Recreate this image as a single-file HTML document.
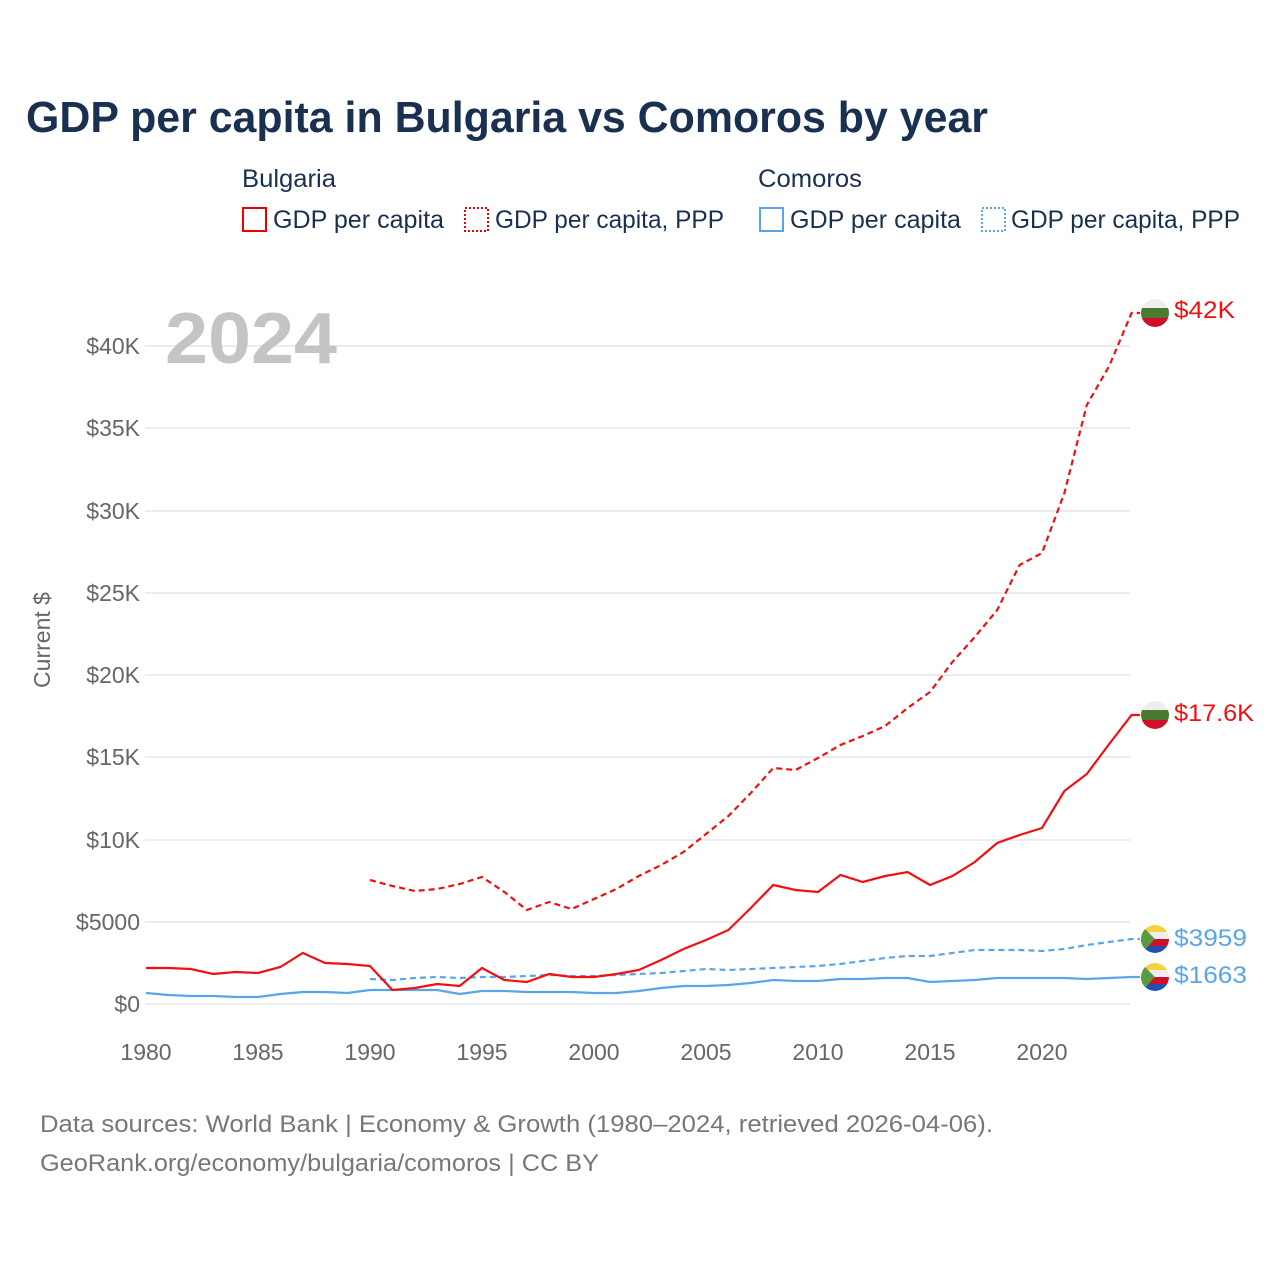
<!DOCTYPE html>
<html><head><meta charset="utf-8"><style>
body{margin:0;background:#fff;}
svg{display:block;font-family:"Liberation Sans",sans-serif;}
</style></head><body>
<svg width="1280" height="1280" viewBox="0 0 1280 1280" xmlns="http://www.w3.org/2000/svg">
<defs>
<clipPath id="c1"><circle cx="1155" cy="313" r="14"/></clipPath>
<clipPath id="c2"><circle cx="1155" cy="715" r="14"/></clipPath>
<clipPath id="c3"><circle cx="1155" cy="939" r="14"/></clipPath>
<clipPath id="c4"><circle cx="1155" cy="977" r="14"/></clipPath>
</defs>
<text x="26" y="132" font-size="44" font-weight="bold" fill="#1a3050" textLength="962" lengthAdjust="spacingAndGlyphs">GDP per capita in Bulgaria vs Comoros by year</text>
<g font-size="25" fill="#1a3050">
<text x="242" y="187" textLength="94" lengthAdjust="spacingAndGlyphs">Bulgaria</text>
<text x="758" y="187" textLength="104" lengthAdjust="spacingAndGlyphs">Comoros</text>
<rect x="243" y="208" width="23" height="23" fill="none" stroke="#e00" stroke-width="2"/>
<text x="273" y="228" textLength="171" lengthAdjust="spacingAndGlyphs">GDP per capita</text>
<rect x="465" y="208" width="23" height="23" fill="none" stroke="#e00" stroke-width="2" stroke-dasharray="2,2"/>
<text x="495" y="228" textLength="229" lengthAdjust="spacingAndGlyphs">GDP per capita, PPP</text>
<rect x="760" y="208" width="23" height="23" fill="none" stroke="#5aa5e8" stroke-width="2"/>
<text x="790" y="228" textLength="171" lengthAdjust="spacingAndGlyphs">GDP per capita</text>
<rect x="982" y="208" width="23" height="23" fill="none" stroke="#5aa5e8" stroke-width="2" stroke-dasharray="2,2"/>
<text x="1011" y="228" textLength="229" lengthAdjust="spacingAndGlyphs">GDP per capita, PPP</text>
</g>
<g stroke="#e6e6e6" stroke-width="1.5">
<line x1="145" x2="1130" y1="346" y2="346"/><line x1="145" x2="1130" y1="428" y2="428"/>
<line x1="145" x2="1130" y1="511" y2="511"/><line x1="145" x2="1130" y1="593" y2="593"/>
<line x1="145" x2="1130" y1="675" y2="675"/><line x1="145" x2="1130" y1="757" y2="757"/>
<line x1="145" x2="1130" y1="840" y2="840"/><line x1="145" x2="1130" y1="922" y2="922"/>
<line x1="145" x2="1130" y1="1004" y2="1004"/>
</g>
<g font-size="23" fill="#666" text-anchor="end">
<text x="140" y="354">$40K</text><text x="140" y="436">$35K</text><text x="140" y="519">$30K</text>
<text x="140" y="601">$25K</text><text x="140" y="683">$20K</text><text x="140" y="765">$15K</text>
<text x="140" y="848">$10K</text><text x="140" y="930">$5000</text><text x="140" y="1012">$0</text>
</g>
<g font-size="23" fill="#666" text-anchor="middle">
<text x="146" y="1060">1980</text><text x="258" y="1060">1985</text><text x="370" y="1060">1990</text>
<text x="482" y="1060">1995</text><text x="594" y="1060">2000</text><text x="706" y="1060">2005</text>
<text x="818" y="1060">2010</text><text x="930" y="1060">2015</text><text x="1042" y="1060">2020</text>
</g>
<text transform="translate(50,640) rotate(-90)" font-size="23" fill="#666" text-anchor="middle">Current $</text>
<text x="165" y="363" font-size="72" font-weight="bold" fill="#c4c4c4" textLength="172" lengthAdjust="spacingAndGlyphs">2024</text>
<polyline fill="none" stroke="#5aa5e8" stroke-width="2.2" points="146,993 168.4,995 190.8,996 213.2,996 235.6,997 258,997 280.4,994 302.8,992 325.2,992 347.6,993 370,990 392.4,990 414.8,990 437.2,990 459.6,994 482,991 504.4,991 526.8,992 549.2,992 571.6,992 594,993 616.4,993 638.8,991 661.2,988 683.6,986 706,986 728.4,985 750.8,983 773.2,980 795.6,981 818,981 840.4,979 862.8,979 885.2,978 907.6,978 930,982 952.4,981 974.8,980 997.2,978 1019.6,978 1042,978 1064.4,978 1086.8,979 1109.2,978 1131.6,977 1140,977"/>
<polyline fill="none" stroke="#5aa5e8" stroke-width="2.2" stroke-dasharray="6,4" points="370,979 392.4,980 414.8,978 437.2,977 459.6,978 482,977 504.4,977 526.8,976 549.2,975 571.6,976 594,976 616.4,975 638.8,974 661.2,973 683.6,971 706,969 728.4,970 750.8,969 773.2,968 795.6,967 818,966 840.4,964 862.8,961 885.2,958 907.6,956 930,956 952.4,953 974.8,950 997.2,950 1019.6,950 1042,951 1064.4,949 1086.8,945 1109.2,942 1131.6,939 1140,939"/>
<polyline fill="none" stroke="#f01010" stroke-width="2.2" points="146,968 168.4,968 190.8,969 213.2,974 235.6,972 258,973 280.4,967 302.8,953 325.2,963 347.6,964 370,966 392.4,990 414.8,988 437.2,984 459.6,986 482,968 504.4,980 526.8,982 549.2,974 571.6,977 594,977 616.4,974 638.8,970 661.2,960 683.6,949 706,940 728.4,930 750.8,908 773.2,885 795.6,890 818,892 840.4,875 862.8,882 885.2,876 907.6,872 930,885 952.4,876 974.8,862 997.2,843 1019.6,835 1042,828 1064.4,791 1086.8,774 1109.2,744 1131.6,715 1140,715"/>
<polyline fill="none" stroke="#f01010" stroke-width="2.2" stroke-dasharray="6,4" points="370,880 392.4,886 414.8,891 437.2,889 459.6,884 482,877 504.4,892 526.8,910 549.2,902 571.6,909 594,899 616.4,889 638.8,876 661.2,865 683.6,852 706,834 728.4,816 750.8,793 773.2,768 795.6,770 818,758 840.4,745 862.8,736 885.2,726 907.6,708 930,692 952.4,662 974.8,637 997.2,610 1019.6,565 1042,553 1064.4,493 1086.8,405 1109.2,366 1131.6,313 1140,313"/>
<g clip-path="url(#c1)"><rect x="1140" y="298" width="30" height="10" fill="#eee"/><rect x="1140" y="308" width="30" height="10" fill="#4a7a30"/><rect x="1140" y="318" width="30" height="12" fill="#d0102a"/></g>
<g clip-path="url(#c2)"><rect x="1140" y="700" width="30" height="10" fill="#eee"/><rect x="1140" y="710" width="30" height="10" fill="#4a7a30"/><rect x="1140" y="720" width="30" height="12" fill="#d0102a"/></g>
<g clip-path="url(#c3)"><rect x="1140" y="924" width="30" height="8" fill="#f8d040"/><rect x="1140" y="932" width="30" height="7" fill="#eee"/><rect x="1140" y="939" width="30" height="7" fill="#d0102a"/><rect x="1140" y="946" width="30" height="9" fill="#2050b0"/><polygon points="1140,924 1155,939 1140,955" fill="#5a9a40"/></g>
<g clip-path="url(#c4)"><rect x="1140" y="962" width="30" height="8" fill="#f8d040"/><rect x="1140" y="970" width="30" height="7" fill="#eee"/><rect x="1140" y="977" width="30" height="7" fill="#d0102a"/><rect x="1140" y="984" width="30" height="9" fill="#2050b0"/><polygon points="1140,962 1155,977 1140,993" fill="#5a9a40"/></g>
<g font-size="24">
<text x="1174" y="318" fill="#f01010" textLength="61" lengthAdjust="spacingAndGlyphs">$42K</text>
<text x="1174" y="721" fill="#f01010" textLength="80" lengthAdjust="spacingAndGlyphs">$17.6K</text>
<text x="1174" y="946" fill="#5aa5e8" textLength="73" lengthAdjust="spacingAndGlyphs">$3959</text>
<text x="1174" y="983" fill="#5aa5e8" textLength="73" lengthAdjust="spacingAndGlyphs">$1663</text>
</g>
<g font-size="24" fill="#777">
<text x="40" y="1132" textLength="953" lengthAdjust="spacingAndGlyphs">Data sources: World Bank | Economy &amp; Growth (1980–2024, retrieved 2026-04-06).</text>
<text x="40" y="1171" textLength="559" lengthAdjust="spacingAndGlyphs">GeoRank.org/economy/bulgaria/comoros | CC BY</text>
</g>
</svg>
</body></html>
